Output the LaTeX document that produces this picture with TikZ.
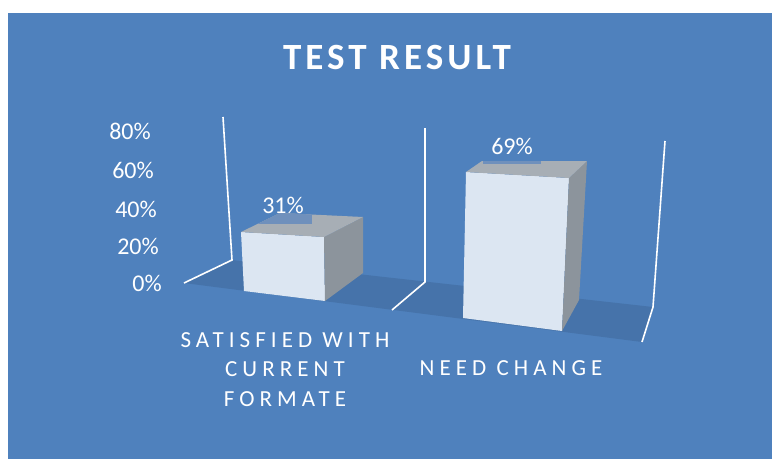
\documentclass[tikz,border=0pt]{standalone}
\usepackage{fontspec}
\setmainfont{Carlito}
\newfontfamily\catfont[LetterSpace=22]{Carlito}
\newfontfamily\titlefont[LetterSpace=11]{Carlito}
\definecolor{bgblue}{HTML}{4F81BD}
\definecolor{floorblue}{HTML}{4673AA}
\definecolor{frontface}{HTML}{DCE6F2}
\definecolor{sideface}{HTML}{8C949C}
\definecolor{topface}{HTML}{A7AEB5}
\definecolor{lblbox}{HTML}{6F90BC}
\tikzset{
  wall/.style={draw=white, line width=1.6pt, line join=miter},
  axislbl/.style={text=white, inner sep=0pt, anchor=base east, font=\fontsize{24}{26}\selectfont},
  vallbl/.style={text=white, inner sep=0pt, anchor=base, font=\fontsize{24}{26}\selectfont},
  catlbl/.style={text=white, inner sep=0pt, anchor=base, font=\catfont\fontsize{23}{26}\selectfont},
  titlelbl/.style={text=white, inner sep=0pt, anchor=base, font=\titlefont\bfseries\fontsize{37}{40}\selectfont}
}
\begin{document}
\begin{tikzpicture}[x=1pt,y=-1pt]
\useasboundingbox (0,0) rectangle (772,459);
\fill[white] (0,0) rectangle (772,459);
\fill[bgblue] (8,13) rectangle (772,459);
% floor
\fill[floorblue] (232,260) -- (653,307) -- (642,342) -- (184,283) -- cycle;
% walls / gridlines
\draw[wall] (223,117) -- (232,260) -- (184,283);
\draw[wall] (425,128) -- (425,282) -- (392,310);
\draw[wall] (665,141) -- (653,307) -- (642,342);
% bar 1
\fill[frontface] (241,232) -- (324,237) -- (325,301) -- (244,291) -- cycle;
\fill[sideface] (324,237) -- (363,217) -- (363,273) -- (325,301) -- cycle;
\fill[topface] (241,232) -- (280,213) -- (363,217) -- (324,237) -- cycle;
\begin{scope}
  \clip (241,232) -- (280,213) -- (363,217) -- (324,237) -- cycle;
  \fill[lblbox] (258,205) rectangle (312,224);
\end{scope}
% bar 2
\fill[frontface] (466,172) -- (569,178) -- (562,331) -- (463,318) -- cycle;
\fill[sideface] (569,178) -- (587,161) -- (579,300) -- (562,331) -- cycle;
\fill[topface] (466,172) -- (482,161) -- (587,161) -- (569,178) -- cycle;
\begin{scope}
  \clip (466,172) -- (482,161) -- (587,161) -- (569,178) -- cycle;
  \fill[lblbox] (483,150) rectangle (541,164);
\end{scope}
% title
\node[titlelbl] (title) at (397,69) {TEST RESULT};
% axis labels
\node[axislbl] (y80) at (151,139) {80\%};
\node[axislbl] (y60) at (154,178) {60\%};
\node[axislbl] (y40) at (157,217) {40\%};
\node[axislbl] (y20) at (159,254) {20\%};
\node[axislbl] (y0) at (162,291) {0\%};
% value labels
\node[vallbl] (v1) at (283,213) {31\%};
\node[vallbl] (v2) at (512,154) {69\%};
% category labels
\node[catlbl] (c1a) at (285,347) {SATISFIED WITH};
\node[catlbl] (c1b) at (285,376) {CURRENT};
\node[catlbl] (c1c) at (285,406) {FORMATE};
\node[catlbl] (c2) at (511,375) {NEED CHANGE};
\end{tikzpicture}
\end{document}
